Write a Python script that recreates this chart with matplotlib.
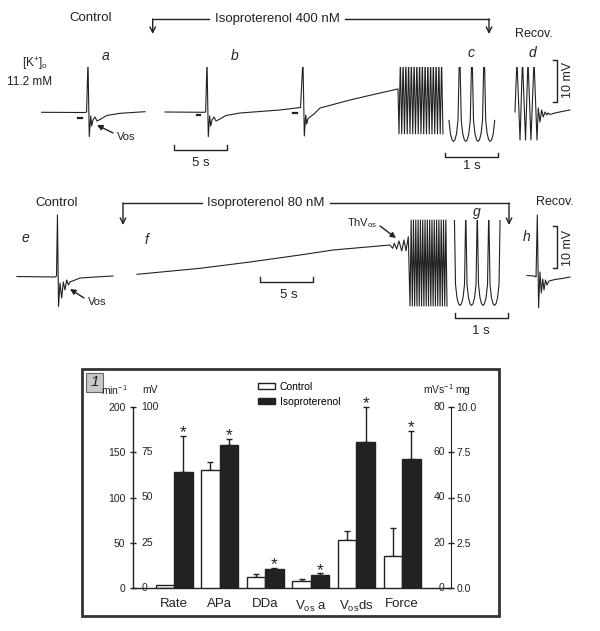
import numpy as np
import matplotlib.pyplot as plt
from matplotlib.patches import Patch, Rectangle

plt.rcParams['font.family'] = ['Liberation Sans', 'DejaVu Sans']
plt.rcParams['mathtext.default'] = 'regular'

W, H = 600, 631
INK = '#222222'
PX_MV = 4.2      # pixels per mV (10 mV bar)
PX_SLOW = 10.6   # pixels per s (5 s bar)
PX_FAST = 53.0   # pixels per s (1 s bar)

# ---- bar chart values ----
categories = ['Rate', 'APa', 'DDa', r'V$_{os}$ a', r'V$_{os}$ds', 'Force']
units = ['rate', 'mv', 'mv', 'mv', 'mvs', 'mg']
control = [3, 65.4, 6.2, 3.7, 21.1, 1.76]
control_err = [0, 4.2, 1.3, 1.1, 4.1, 1.57]
iso = [128, 79.2, 10.3, 7.3, 64.5, 7.13]
iso_err = [40, 3.1, 0.9, 0.8, 15.6, 1.55]

# ---- traces, time in s, voltage in mV from the resting level ----
# row 1 (K 11.2 mM, iso 400 nM)
a_t = [3.93, 8.02, 8.17, 8.30, 8.42, 8.56, 8.65, 8.77, 8.96, 9.15, 9.43, 10.07, 11.32, 13.68]
a_v = [-0.07, -0.12, 0.0, 12.4, -5.88, -0.95, -3.33, -1.9, -1.19, -2.14, -1.79, -0.83, -0.31, 0.07]
b_t = [15.57, 19.25, 19.40, 19.53, 19.65, 19.78, 19.88, 20.0, 20.19, 20.38, 20.66, 21.32,
       22.64, 24.53, 26.42, 27.55, 28.35, 28.58, 28.71, 28.84, 28.93, 29.06, 29.25, 29.62,
       30.19, 31.6, 33.02, 34.43, 35.85, 37.55]
b_v = [0.0, -0.07, 0.0, 12.4, -5.88, -0.95, -3.33, -1.9, -1.19, -2.14, -1.79, -0.83,
       -0.24, 0.12, 0.48, 0.83, 1.07, 12.4, -5.71, -0.71, -2.86, -1.55, -1.19, -0.48,
       0.95, 1.9, 2.86, 3.69, 4.52, 5.48]
dash_t0 = [7.36, 18.58, 27.64]
dash_t1 = [7.74, 18.87, 28.02]
dash_v = [-1.5, -0.71, -0.31]
burst1_start, burst1_end, burst1_n = 37.64, 41.79, 16
burst1_high, burst1_low = 12.4, -5.2
d_t = [48.58, 48.77, 49.06, 49.29, 49.58, 49.81, 50.09, 50.38, 50.66, 50.78,
       50.94, 51.10, 51.25, 51.42, 51.58, 51.70, 51.89, 52.36, 53.02, 53.77]
d_v = [0, 12.4, -6.67, 12.4, -6.67, 12.4, -6.67, 12.4, -6.67, 0.95,
       -2.38, 0.48, -1.19, 0, -0.71, -0.24, -0.6, -0.24, 0.12, 0.48]
c_troughs = [0.160, 0.392, 0.623, 0.853]

# row 2 (iso 80 nM)
e_t = [1.60, 5.19, 5.33, 5.42, 5.52, 5.66, 5.82, 5.97, 6.13, 6.29, 6.46, 6.60, 7.08, 7.55, 8.96, 10.66]
e_v = [-0.12, -0.24, 0, 14.52, -7.26, -1.67, -5.24, -1.43, -3.33, -0.95, -2.14, -1.43, -0.95, -0.48, -0.24, 0]
f_t = [12.92, 18.87, 23.58, 28.3, 31.42, 34.62, 36.79, 37.05, 37.2, 37.42, 37.64, 37.9, 38.11, 38.3, 38.52]
f_v = [0.4, 1.83, 3.33, 5.0, 6.19, 6.9, 7.38, 6.6, 7.79, 6.43, 8.33, 5.95, 8.57, 6.02, 9.36]
burst2_start, burst2_end, burst2_n = 38.68, 42.17, 16
burst2_high, burst2_low = 13.33, -7.14
h_t = [49.72, 50.38, 50.57, 50.69, 50.81, 50.94, 51.07, 51.2, 51.32, 51.46, 51.6, 51.79, 52.36, 53.02, 53.77]
h_v = [0.12, 0, -0.24, 14.52, -7.55, 0.95, -4.05, -0.71, -3.33, -0.95, -2.14, -1.19, -0.83, -0.6, -0.24]
g_troughs = [0.189, 0.406, 0.623, 0.840]

# one cycle of the fast records around its trough
cyc_dt = [-0.085, -0.057, -0.028, 0, 0.028, 0.057, 0.085]
cyc_v = [-2.0, -5.2, -6.6, -7.0, -6.6, -5.2, -2.0]
spike_top = 16


fig = plt.figure(figsize=(W / 100, H / 100), dpi=100)


def box(x0, y0, x1, y1):
    return [x0 / W, 1 - y1 / H, (x1 - x0) / W, (y1 - y0) / H]


def trace_axes(x0, x1, y_top, y_bot, y_zero, px_s):
    ax = fig.add_axes(box(x0, y_top, x1, y_bot))
    ax.set_xlim(0, (x1 - x0) / px_s)
    ax.set_ylim((y_zero - y_bot) / PX_MV, (y_zero - y_top) / PX_MV)
    ax.axis('off')
    ax.patch.set_visible(False)
    return ax


def burst(t_from, v_from, start, end, n, high, low):
    per = (end - start) / n
    t, v = [t_from, start], [v_from, low]
    for k in range(n):
        t += [start + (k + 0.5) * per, start + (k + 1) * per]
        v += [high, low]
    return t, v


def fast(troughs, lead, tail):
    t, v = [], []
    half = (troughs[1] - troughs[0]) / 2
    if lead:
        t.append(troughs[0] - half)
        v.append(spike_top)
    for i, tr in enumerate(troughs):
        t += [tr + d for d in cyc_dt]
        v += cyc_v
        if i < len(troughs) - 1 or tail:
            t.append(tr + half)
            v.append(spike_top)
    return t, v


def trace(ax, t, v, lw=0.8):
    ax.plot(t, v, color=INK, lw=lw, solid_joinstyle='round')


def hbar(ax, t0, t1, v, tick):
    ax.plot([t0, t0, t1, t1], [v + tick, v, v, v + tick], color=INK, lw=1, clip_on=False)


def vbar(ax, t, v0, v1, tick):
    ax.plot([t - tick, t, t, t - tick], [v0, v0, v1, v1], color=INK, lw=1, clip_on=False)


# overlay in pixel units for labels
ov = fig.add_axes([0, 0, 1, 1])
ov.set_xlim(0, W)
ov.set_ylim(H, 0)
ov.axis('off')
ov.patch.set_visible(False)


def txt(x, y, s, size=9.5, **kw):
    kw.setdefault('ha', 'center')
    kw.setdefault('va', 'center')
    ov.text(x, y, s, fontsize=size, color=INK, **kw)


def down_arrow(x, y0, y1):
    ov.annotate('', xy=(x, y1), xytext=(x, y0),
                arrowprops=dict(arrowstyle='->', lw=1, color=INK, shrinkA=0, shrinkB=0))


def pointer(x0, y0, x1, y1):
    ov.annotate('', xy=(x1, y1), xytext=(x0, y0),
                arrowprops=dict(arrowstyle='-|>', lw=1, color=INK, mutation_scale=8,
                                shrinkA=0, shrinkB=0))


# ---------------- row 1 ----------------
s1 = trace_axes(0, 580, 67, 150, 112, PX_SLOW)
trace(s1, a_t, a_v)
bt, bv = burst(b_t[-1], b_v[-1], burst1_start, burst1_end, burst1_n, burst1_high, burst1_low)
trace(s1, b_t + bt, b_v + bv)
trace(s1, d_t, d_v)
for t0, t1, v in zip(dash_t0, dash_t1, dash_v):
    s1.plot([t0, t1], [v, v], color=INK, lw=1.6)
hbar(s1, 16.42, 21.42, -8.93, 1.07)
vbar(s1, 52.55, 2.38, 12.38, 0.38)

c1 = trace_axes(445, 500, 67, 150, 112, PX_FAST)
ct, cv = fast(c_troughs, False, False)
trace(c1, ct, cv)
hbar(c1, 0.0, 1.0, -10.7, 0.95)

txt(91, 18, 'Control')
ov.plot([152.7, 209], [19, 19], color=INK, lw=1)
ov.plot([345, 489], [19, 19], color=INK, lw=1)
txt(215, 19, 'Isoproterenol 400 nM', ha='left')
down_arrow(152.7, 19, 34)
down_arrow(489, 19, 34)
txt(534, 34, 'Recov.', size=9)
txt(35, 64, r'[K$^{+}$]$_{o}$', size=8.5)
txt(30, 82, '11.2 mM', size=8.5)
for lab, x, y in [('a', 106, 56), ('b', 235, 56), ('c', 471, 53), ('d', 532, 53)]:
    txt(x, y, lab, size=10, style='italic')
txt(117, 137, 'Vos', size=8, ha='left')
pointer(113, 133, 97, 125)
txt(201, 163, '5 s')
txt(472, 166, '1 s')
txt(568, 80, '10 mV', size=9, rotation=90)

# ---------------- row 2 ----------------
s2 = trace_axes(0, 580, 212, 312, 276, PX_SLOW)
trace(s2, e_t, e_v)
bt, bv = burst(f_t[-1], f_v[-1], burst2_start, burst2_end, burst2_n, burst2_high, burst2_low)
trace(s2, f_t + bt, f_v + bv)
trace(s2, h_t, h_v)
hbar(s2, 24.53, 29.53, -1.36, 1.19)
vbar(s2, 52.55, 1.9, 11.9, 0.38)

g2 = trace_axes(450, 510, 220, 312, 276, PX_FAST)
gt, gv = fast(g_troughs, True, True)
trace(g2, gt, gv)
hbar(g2, 0.094, 1.094, -10.0, 1.19)

txt(57, 203, 'Control')
ov.plot([123, 202], [203, 203], color=INK, lw=1)
ov.plot([330, 509], [203, 203], color=INK, lw=1)
txt(207, 203, 'Isoproterenol 80 nM', ha='left')
down_arrow(123, 203, 225)
down_arrow(509, 203, 225)
txt(555, 202, 'Recov.', size=9)
for lab, x, y in [('e', 25, 238), ('f', 146, 240), ('g', 477, 212), ('h', 527, 237)]:
    txt(x, y, lab, size=10, style='italic')
txt(88, 302, 'Vos', size=8, ha='left')
pointer(84, 298, 70, 289)
txt(362, 223, r'ThV$_{os}$', size=8)
pointer(380, 226, 396, 238)
txt(289, 295, '5 s')
txt(481, 331, '1 s')
txt(568, 248, '10 mV', size=9, rotation=90)

# ---------------- bar chart ----------------
ov.add_patch(Rectangle((82, 369), 417, 247, fill=False, lw=2, edgecolor='#333333'))
ov.add_patch(Rectangle((86, 373), 17, 19, facecolor='#c8c8c8', edgecolor='#666666', lw=0.8))
txt(94.5, 382.5, '1', size=11, style='italic')

rect = box(133, 407, 451, 588)
xl = (-41 / 45.6, 277 / 45.6)
axes = {}
for key, top in [('rate', 200), ('mv', 100), ('mvs', 80), ('mg', 10)]:
    a = fig.add_axes(rect)
    a.set_xlim(*xl)
    a.set_ylim(0, top)
    a.patch.set_visible(False)
    for sp in a.spines.values():
        sp.set_visible(False)
    a.tick_params(left=False, right=False, bottom=False, labelleft=False, labelbottom=False)
    axes[key] = a

ax = axes['rate']
ax.spines['left'].set_visible(True)
ax.spines['bottom'].set_visible(True)
for sp in ('left', 'bottom'):
    ax.spines[sp].set_color(INK)
    ax.spines[sp].set_linewidth(1)
ax.set_yticks([0, 50, 100, 150, 200])
ax.tick_params(axis='y', left=True, labelleft=True, direction='inout', length=5,
               width=1, color=INK, labelsize=7.5, labelcolor=INK, pad=3)
ax.set_xticks(range(len(categories)), categories)
ax.tick_params(axis='x', labelbottom=True, length=0, pad=7.5, labelsize=9.5, labelcolor=INK)

amg = axes['mg']
amg.spines['right'].set_visible(True)
amg.spines['right'].set_color(INK)
amg.yaxis.set_ticks_position('right')
amg.set_yticks([0, 2.5, 5, 7.5, 10], ['0.0', '2.5', '5.0', '7.5', '10.0'])
amg.tick_params(axis='y', right=True, labelright=True, direction='inout', length=5,
                width=1, color=INK, labelsize=7.5, labelcolor=INK, pad=1.5)

for v in [0, 25, 50, 75, 100]:
    axes['mv'].annotate(str(v), xy=(0, v), xycoords=('axes fraction', 'data'),
                        xytext=(6, 0), textcoords='offset points',
                        ha='left', va='center', fontsize=7.5, color=INK)
for v in [0, 20, 40, 60, 80]:
    axes['mvs'].annotate(str(v), xy=(1, v), xycoords=('axes fraction', 'data'),
                         xytext=(-4.5, 0), textcoords='offset points',
                         ha='right', va='center', fontsize=7.5, color=INK)

w = 18.5 / 45.6
for i, u in enumerate(units):
    a = axes[u]
    a.bar(i - w / 2, control[i], w, color='white', edgecolor=INK, lw=1, zorder=2)
    a.bar(i + w / 2, iso[i], w, color=INK, edgecolor=INK, lw=1, zorder=2)
    if control_err[i] > 0:
        a.errorbar(i - w / 2, control[i], yerr=[[0], [control_err[i]]], fmt='none',
                   ecolor=INK, elinewidth=1, capsize=2.5, capthick=1, zorder=1)
    a.errorbar(i + w / 2, iso[i], yerr=[[0], [iso_err[i]]], fmt='none',
               ecolor=INK, elinewidth=1, capsize=2.5, capthick=1, zorder=1, clip_on=False)
    a.annotate('*', xy=(i + w / 2, iso[i] + iso_err[i]), xytext=(0, -1),
               textcoords='offset points', ha='center', va='baseline',
               fontsize=12.5, color=INK, annotation_clip=False)

txt(128, 390, r'min$^{-1}$', size=7.5, ha='right')
txt(142, 390, 'mV', size=7.5, ha='left')
txt(423, 390, r'mVs$^{-1}$ mg', size=7.5, ha='left')
ax.legend(handles=[Patch(facecolor='white', edgecolor=INK, lw=1, label='Control'),
                   Patch(facecolor=INK, edgecolor=INK, label='Isoproterenol')],
          loc='upper left', bbox_to_anchor=(258, 382), bbox_transform=ov.transData,
          frameon=False, fontsize=7.5, handlelength=1.6, handleheight=0.55,
          handletextpad=0.5, labelspacing=0.45, borderpad=0, borderaxespad=0)

fig.savefig('out.png', dpi=100)
